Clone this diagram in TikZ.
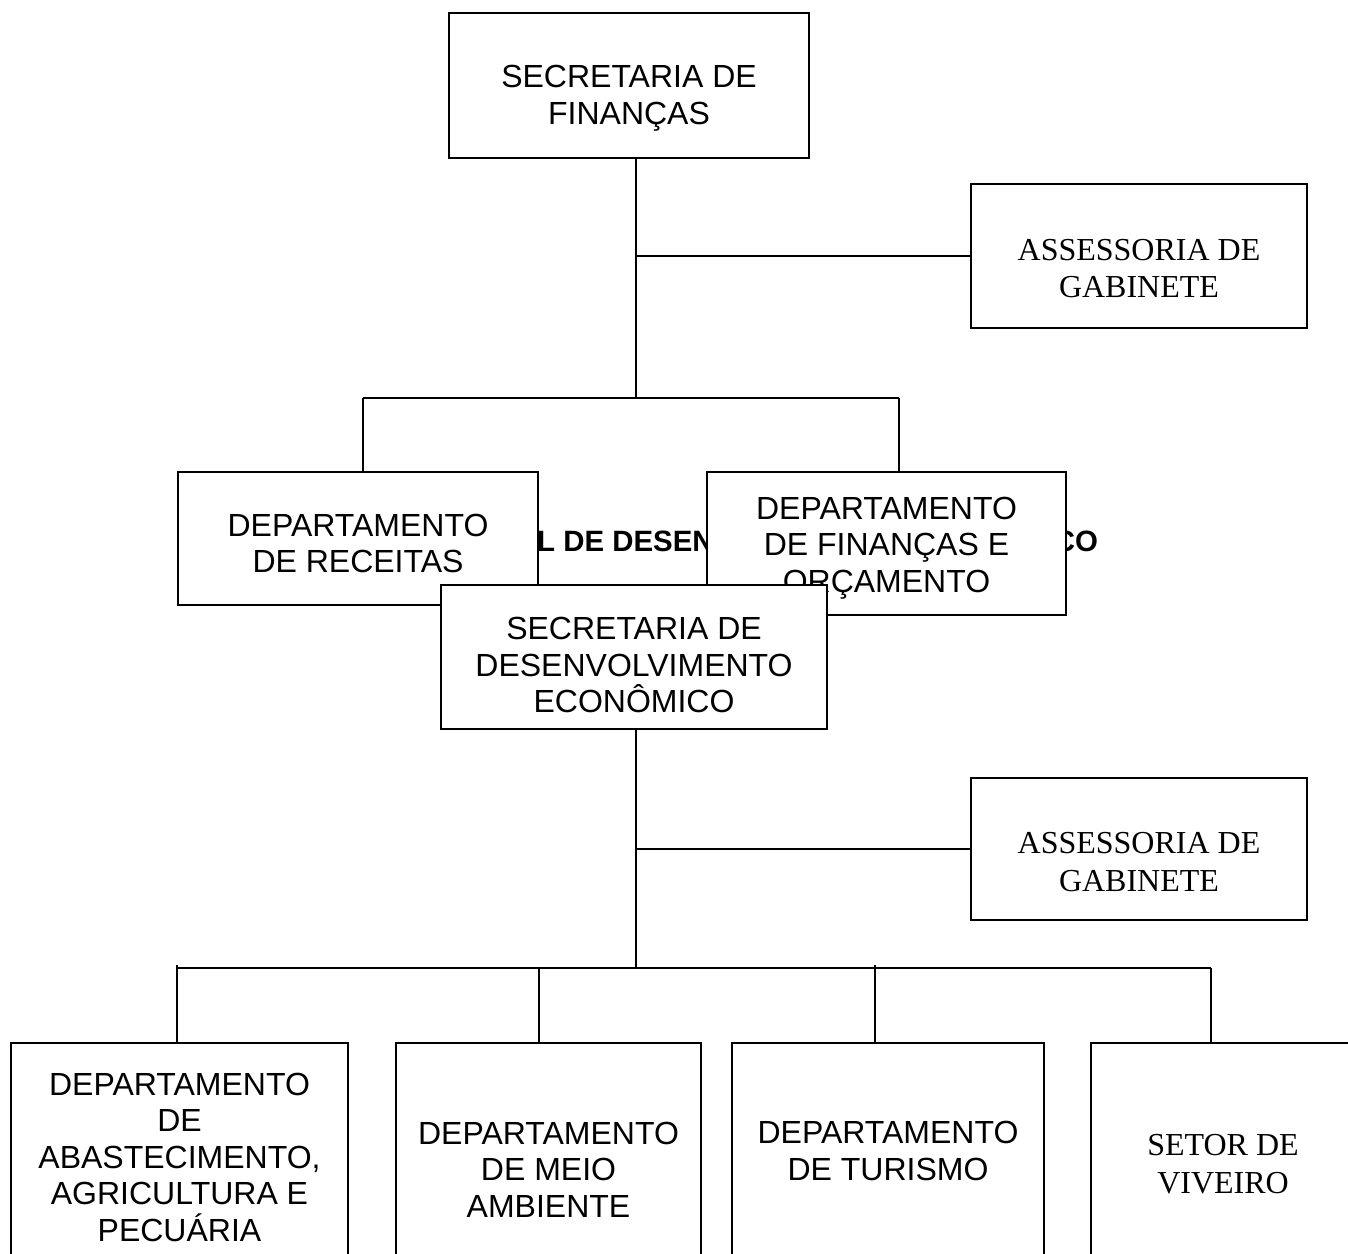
\documentclass[tikz,border=0pt]{standalone}
\usepackage{fontspec}
\setmainfont{Liberation Serif}
\setsansfont{Liberation Sans}
\usetikzlibrary{positioning}
\tikzset{
  orgbox/.style={draw=black,fill=white,line width=2pt,inner sep=0pt},
  orgtext/.style={align=center,inner sep=0pt,font=\sffamily\fontsize{32}{36.5}\selectfont},
  orgserif/.style={align=center,inner sep=0pt,font=\rmfamily\fontsize{32}{37.5}\selectfont},
  orglink/.style={line width=1.5pt},
}

\begin{document}
\begin{tikzpicture}[x=1pt,y=-1pt]
\useasboundingbox (0,0) rectangle (1348,1253);
\clip (0,0) rectangle (1348,1253);

\coordinate (busA) at (636,398);
\coordinate (busAl) at (363,398);
\coordinate (busAr) at (899,398);
\coordinate (busB) at (636,968);
\coordinate (busBl) at (177,968);
\coordinate (busBm) at (539,968);
\coordinate (busBn) at (875,968);
\coordinate (busBr) at (1211,968);

\node[orgbox,minimum width=360pt,minimum height=145pt] (fin) at (629,85.5) {};
\node[orgtext] (finT) at ([yshift=-12.5pt]fin.center) {SECRETARIA DE\\FINANÇAS};

\node[orgbox,minimum width=336pt,minimum height=144pt] (assA) at (1139,256) {};
\node[orgserif] (assAT) at ([yshift=-12.5pt]assA.center) {ASSESSORIA DE\\GABINETE};

\draw[orglink] (fin.south -| busA) -- (busA);
\draw[orglink] (assA.west) -- (assA.west -| busA);
\draw[orglink] (busAl) -- (busAr);
\draw[orglink] (busAl) -- (busAl |- 0,472);
\draw[orglink] (busAr) -- (busAr |- 0,472);

\node[anchor=base west,inner sep=0pt,font=\sffamily\bfseries\fontsize{29.4}{33}\selectfont] (ghost) at (537,551) {L DE DESENVOLVIMENTO ECONÔMICO};

\node[orgbox,minimum width=360pt,minimum height=133pt] (rec) at (358,538.5) {};
\node[orgtext] (recT) at ([yshift=-5pt]rec.center) {DEPARTAMENTO\\DE RECEITAS};

\node[orgbox,minimum width=359pt,minimum height=143pt] (orc) at (886.5,543.5) {};
\node[orgtext] (orcT) at ([yshift=-4.5pt]orc.center) {DEPARTAMENTO\\DE FINANÇAS E\\ORÇAMENTO};

\node[orgbox,minimum width=386pt,minimum height=144pt] (sec) at (634,657) {};
\node[orgtext] (secT) at ([yshift=-8pt]sec.center) {SECRETARIA DE\\DESENVOLVIMENTO\\ECONÔMICO};

\node[orgbox,minimum width=336pt,minimum height=142pt] (assB) at (1139,849) {};
\node[orgserif] (assBT) at ([yshift=-13pt]assB.center) {ASSESSORIA DE\\GABINETE};

\node[orgbox,minimum width=337pt,minimum height=300pt,anchor=north west] (abast) at (10,1042) {};
\node[orgtext] (abastT) at ([yshift=-115pt]abast.north) {DEPARTAMENTO\\DE\\ABASTECIMENTO,\\AGRICULTURA E\\PECUÁRIA};

\node[orgbox,minimum width=305pt,minimum height=300pt,anchor=north west] (meio) at (395,1042) {};
\node[orgtext] (meioT) at ([yshift=-127.5pt]meio.north) {DEPARTAMENTO\\DE MEIO\\AMBIENTE};

\node[orgbox,minimum width=312pt,minimum height=300pt,anchor=north west] (tur) at (731,1042) {};
\node[orgtext] (turT) at ([yshift=-109pt]tur.north) {DEPARTAMENTO\\DE TURISMO};

\node[orgbox,minimum width=264pt,minimum height=300pt,anchor=north west] (viv) at (1090,1042) {};
\node[orgserif] (vivT) at ([yshift=-122pt]viv.north) {SETOR DE\\VIVEIRO};

\draw[orglink] (sec.south -| busB) -- (busB);
\draw[orglink] (assB.west) -- (assB.west -| busB);
\draw[line width=2.5pt] (busBl) -- (busBr);
\draw[orglink] ([yshift=3pt]busBl) -- (busBl |- abast.north);
\draw[orglink] (busBm) -- (busBm |- meio.north);
\draw[orglink] ([yshift=3pt]busBn) -- (busBn |- tur.north);
\draw[orglink] (busBr) -- (busBr |- viv.north);
\end{tikzpicture}
\end{document}
